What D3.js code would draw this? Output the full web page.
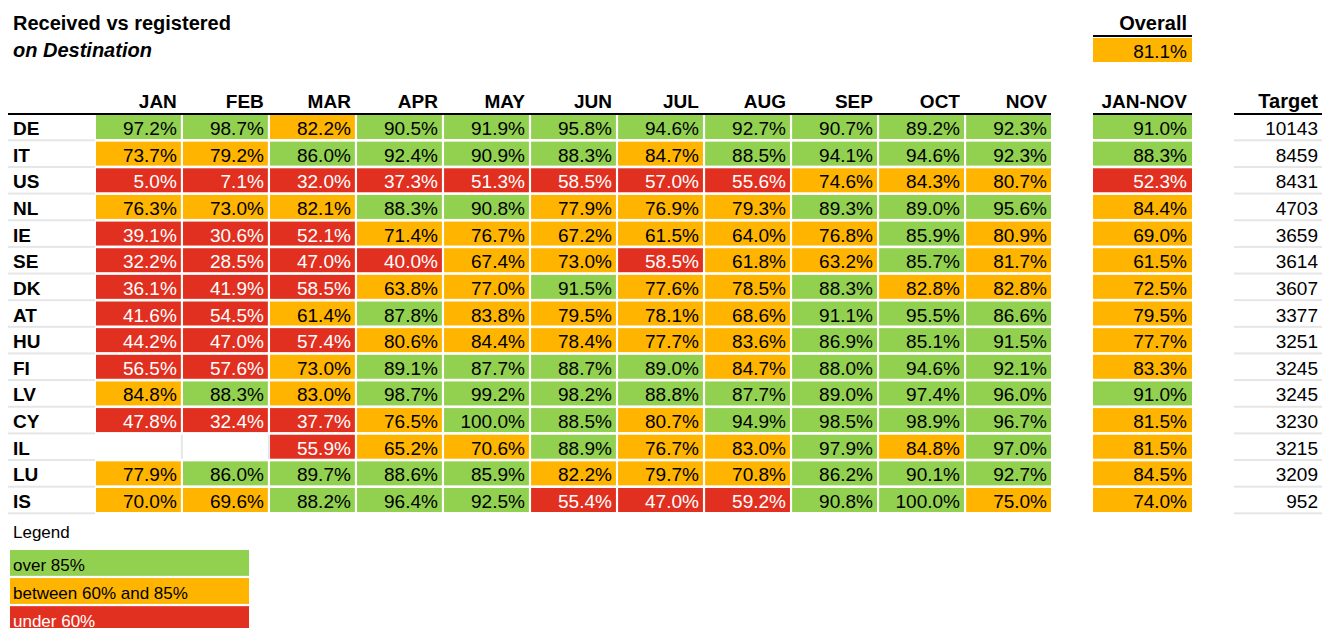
<!DOCTYPE html>
<meta charset="utf-8">
<html>
<head>
  <style>
    body { margin: 0; background: #fff; font-family: "Liberation Sans", Arial, sans-serif; }
    svg { display: block; }
    .title { font-size: 20px; font-weight: bold; }
    .hdr { font-size: 19px; font-weight: bold; text-anchor: end; }
    .hdr.big { font-size: 20px; }
    .lbl { font-size: 19px; font-weight: bold; }
    .val { font-size: 19px; text-anchor: end; }
    .leg { font-size: 17px; }
  </style>
</head>
<body>
<svg id="chart" width="1322" height="628"></svg>
<script src="https://d3js.org/d3.v7.min.js"></script>
<script>
  const months = ["JAN", "FEB", "MAR", "APR", "MAY", "JUN", "JUL", "AUG", "SEP", "OCT", "NOV"];
  const countries = ["DE", "IT", "US", "NL", "IE", "SE", "DK", "AT", "HU", "FI", "LV", "CY", "IL", "LU", "IS"];
  const monthly = [
    [97.2, 98.7, 82.2, 90.5, 91.9, 95.8, 94.6, 92.7, 90.7, 89.2, 92.3],
    [73.7, 79.2, 86.0, 92.4, 90.9, 88.3, 84.7, 88.5, 94.1, 94.6, 92.3],
    [5.0, 7.1, 32.0, 37.3, 51.3, 58.5, 57.0, 55.6, 74.6, 84.3, 80.7],
    [76.3, 73.0, 82.1, 88.3, 90.8, 77.9, 76.9, 79.3, 89.3, 89.0, 95.6],
    [39.1, 30.6, 52.1, 71.4, 76.7, 67.2, 61.5, 64.0, 76.8, 85.9, 80.9],
    [32.2, 28.5, 47.0, 40.0, 67.4, 73.0, 58.5, 61.8, 63.2, 85.7, 81.7],
    [36.1, 41.9, 58.5, 63.8, 77.0, 91.5, 77.6, 78.5, 88.3, 82.8, 82.8],
    [41.6, 54.5, 61.4, 87.8, 83.8, 79.5, 78.1, 68.6, 91.1, 95.5, 86.6],
    [44.2, 47.0, 57.4, 80.6, 84.4, 78.4, 77.7, 83.6, 86.9, 85.1, 91.5],
    [56.5, 57.6, 73.0, 89.1, 87.7, 88.7, 89.0, 84.7, 88.0, 94.6, 92.1],
    [84.8, 88.3, 83.0, 98.7, 99.2, 98.2, 88.8, 87.7, 89.0, 97.4, 96.0],
    [47.8, 32.4, 37.7, 76.5, 100.0, 88.5, 80.7, 94.9, 98.5, 98.9, 96.7],
    [null, null, 55.9, 65.2, 70.6, 88.9, 76.7, 83.0, 97.9, 84.8, 97.0],
    [77.9, 86.0, 89.7, 88.6, 85.9, 82.2, 79.7, 70.8, 86.2, 90.1, 92.7],
    [70.0, 69.6, 88.2, 96.4, 92.5, 55.4, 47.0, 59.2, 90.8, 100.0, 75.0]
  ];
  const janNov = [91.0, 88.3, 52.3, 84.4, 69.0, 61.5, 72.5, 79.5, 77.7, 83.3, 91.0, 81.5, 81.5, 84.5, 74.0];
  const targets = [10143, 8459, 8431, 4703, 3659, 3614, 3607, 3377, 3251, 3245, 3245, 3230, 3215, 3209, 952];
  const overall = 81.1;
  const legendItems = ["over 85%", "between 60% and 85%", "under 60%"];

  const GREEN = "#92d050", ORANGE = "#ffb400", RED = "#e1301f";
  const color = d3.scaleThreshold().domain([60, 85]).range([RED, ORANGE, GREEN]);
  const fmt = d3.format(".1f");

  const svg = d3.select("#chart");

  const x = d3.scaleBand().domain(months).range([96, 1051]).paddingInner(0.025);
  const y = d3.scaleBand().domain(countries).range([115, 512]).paddingInner(0.1);
  const gap = y.step() - y.bandwidth();

  // titles
  svg.append("text").attr("class", "title").attr("x", 13).attr("y", 30).text("Received vs registered");
  svg.append("text").attr("class", "title").attr("x", 13).attr("y", 57)
    .style("font-style", "italic").text("on Destination");

  // overall box
  svg.append("text").attr("class", "hdr big").attr("x", 1187).attr("y", 30).text("Overall");
  svg.append("rect").attr("x", 1093).attr("y", 35).attr("width", 99).attr("height", 2).attr("fill", "#000");
  svg.append("rect").attr("x", 1093).attr("y", 38).attr("width", 99).attr("height", 24).attr("fill", color(overall));
  svg.append("text").attr("class", "val").attr("x", 1187).attr("y", 58).text(fmt(overall) + "%");

  // headers
  svg.selectAll("text.mh").data(months).join("text")
    .attr("class", "hdr mh")
    .attr("x", d => x(d) + x.bandwidth() - 4)
    .attr("y", 108)
    .text(d => d);
  svg.append("text").attr("class", "hdr").attr("x", 1187).attr("y", 108).text("JAN-NOV");
  svg.append("text").attr("class", "hdr big").attr("x", 1318).attr("y", 108).text("Target");

  // header underlines
  svg.append("rect").attr("x", 8).attr("y", 113).attr("width", 1043).attr("height", 2).attr("fill", "#000");
  svg.append("rect").attr("x", 1093).attr("y", 113).attr("width", 99).attr("height", 2).attr("fill", "#000");
  svg.append("rect").attr("x", 1234).attr("y", 113).attr("width", 88).attr("height", 2).attr("fill", "#000");

  // light separators for labels and target columns
  const sep = svg.append("g").attr("fill", "#e6e6e6");
  countries.forEach(c => {
    const yy = y(c) + y.bandwidth() + gap / 2 - 1;
    sep.append("rect").attr("x", 8).attr("y", yy).attr("width", 87).attr("height", 2);
    sep.append("rect").attr("x", 1234).attr("y", yy).attr("width", 88).attr("height", 2);
  });

  // row labels
  svg.selectAll("text.lbl").data(countries).join("text")
    .attr("class", "lbl")
    .attr("x", 13)
    .attr("y", d => y(d) + 20)
    .text(d => d);

  // monthly cells
  const cells = [];
  countries.forEach((c, i) => months.forEach((m, j) => cells.push({ c, m, v: monthly[i][j] })));

  // borders of empty cells
  cells.filter(d => d.v == null).forEach(d => {
    sep.append("rect").attr("x", x(d.m) + x.bandwidth()).attr("y", y(d.c)).attr("width", 2).attr("height", y.bandwidth());
  });

  const filled = cells.filter(d => d.v != null);
  svg.selectAll("rect.cell").data(filled).join("rect")
    .attr("class", "cell")
    .attr("x", d => x(d.m))
    .attr("y", d => y(d.c))
    .attr("width", x.bandwidth())
    .attr("height", y.bandwidth())
    .attr("fill", d => color(d.v));
  svg.selectAll("text.cv").data(filled).join("text")
    .attr("class", "val cv")
    .attr("x", d => x(d.m) + x.bandwidth() - 4)
    .attr("y", d => y(d.c) + 20)
    .attr("fill", d => d.v < 60 ? "#fff" : "#000")
    .text(d => fmt(d.v) + "%");

  // JAN-NOV column
  svg.selectAll("rect.jn").data(janNov).join("rect")
    .attr("class", "jn")
    .attr("x", 1093)
    .attr("y", (d, i) => y(countries[i]))
    .attr("width", 99)
    .attr("height", y.bandwidth())
    .attr("fill", d => color(d));
  svg.selectAll("text.jnv").data(janNov).join("text")
    .attr("class", "val jnv")
    .attr("x", 1187)
    .attr("y", (d, i) => y(countries[i]) + 20)
    .attr("fill", d => d < 60 ? "#fff" : "#000")
    .text(d => fmt(d) + "%");

  // Target column
  svg.selectAll("text.tg").data(targets).join("text")
    .attr("class", "val tg")
    .attr("x", 1318)
    .attr("y", (d, i) => y(countries[i]) + 20)
    .text(d => d);

  // legend
  svg.append("text").attr("class", "leg").attr("x", 13).attr("y", 538).text("Legend");
  const ly = d3.scaleBand().domain(legendItems).range([550, 632]).paddingInner(0.08);
  const legColor = [GREEN, ORANGE, RED];
  svg.selectAll("rect.lg").data(legendItems).join("rect")
    .attr("class", "lg")
    .attr("x", 10)
    .attr("y", d => ly(d))
    .attr("width", 239)
    .attr("height", ly.bandwidth())
    .attr("fill", (d, i) => legColor[i]);
  svg.selectAll("text.lgt").data(legendItems).join("text")
    .attr("class", "leg lgt")
    .attr("x", 13)
    .attr("y", d => ly(d) + 21)
    .attr("fill", (d, i) => i === 2 ? "#fff" : "#000")
    .text(d => d);
</script>
</body>
</html>
